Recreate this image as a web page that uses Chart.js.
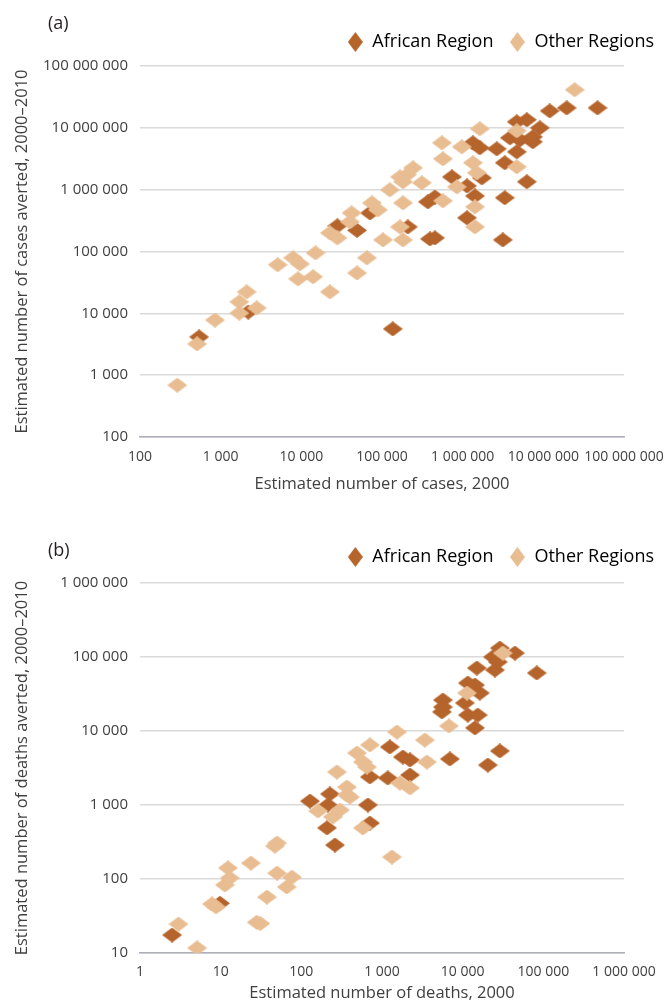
<!DOCTYPE html>
<html>
<head>
<meta charset="utf-8">
<title>Cases and deaths averted, 2000-2010</title>
<script src="https://cdn.jsdelivr.net/npm/chart.js@4.4.1/dist/chart.umd.min.js"></script>
<style>
  html, body { margin: 0; padding: 0; background: #fff; }
  body { width: 670px; height: 1007px; position: relative; overflow: hidden; font-family: "Open Sans", sans-serif; }
  .panel { position: absolute; left: 0; width: 670px; }
  .panel canvas { display: block; }
  .tag { position: absolute; left: 48px; font-size: 18px; line-height: 22px; color: #231f20; }
</style>
</head>
<body>
<div class="panel" style="top:0;height:500px">
  <canvas id="casesChart" width="670" height="500" style="width:670px;height:500px"></canvas>
  <div class="tag" style="top:11px">(a)</div>
</div>
<div class="panel" style="top:500px;height:507px">
  <canvas id="deathsChart" width="670" height="507" style="width:670px;height:507px"></canvas>
  <div class="tag" style="top:38px">(b)</div>
</div>

<script>
// ── colours ──
const AFRICA = '#b5642c';
const OTHER  = '#e9bd92';
const TEXT   = '#404040';
const FONT   = '"Open Sans", sans-serif';

// ── (a) cases ──
const casesTicksX = [100, 1000, 10000, 100000, 1000000, 10000000, 100000000];
const casesTicksY = [100, 1000, 10000, 100000, 1000000, 10000000, 100000000];

const africaCases2000 = [540, 2200, 136000, 28000, 49000, 71000, 735000, 1130000, 1420000, 3330000,
  371000, 453000, 1130000, 3150000, 209000, 453000, 393000, 1340000, 1630000, 2650000,
  4690000, 3330000, 1730000, 6250000, 3850000, 5120000, 7410000, 7410000, 9060000, 4690000,
  6250000, 12000000, 19500000, 47000000];
const africaCasesAverted = [4150, 10500, 5600, 260000, 220000, 420000, 1610000, 1150000, 790000, 740000,
  635000, 760000, 350000, 154000, 250000, 166000, 160000, 5720000, 4750000, 4570000,
  4090000, 2720000, 1550000, 1340000, 6890000, 6400000, 5930000, 7150000, 10000000, 12500000,
  13500000, 18800000, 21000000, 21000000];

const otherCases2000 = [290, 510, 850, 1700, 1700, 2100, 2800, 5100, 7900, 9600,
  9100, 14000, 15000, 22600, 22600, 28000, 42000, 40000, 49000, 65000,
  75000, 89000, 103000, 125000, 167000, 167000, 242000, 204000, 182000, 312000,
  182000, 553000, 569000, 977000, 1340000, 1500000, 1630000, 848000, 569000, 1420000,
  1420000, 4690000, 4690000, 182000, 24500000];
const otherCasesAverted = [690, 3200, 7800, 10100, 15300, 22200, 12200, 61000, 79000, 63000,
  36000, 39000, 95000, 22200, 200000, 166000, 421000, 301000, 45000, 79000,
  611000, 471000, 154000, 993000, 1610000, 250000, 2250000, 1740000, 1340000, 1290000,
  611000, 5720000, 3150000, 4930000, 2720000, 1870000, 9640000, 1110000, 659000, 527000,
  250000, 8940000, 2340000, 154000, 41200000];

// ── (b) deaths ──
const deathsTicksX = [1, 10, 100, 1000, 10000, 100000, 1000000];
const deathsTicksY = [10, 100, 1000, 10000, 100000, 1000000];

const africaDeaths2000 = [2.5, 9.8, 128, 226, 214, 208, 261, 669, 708, 1250,
  708, 1180, 28900, 44400, 23700, 83000, 15000, 25100, 27300, 11600,
  14200, 16300, 5690, 5690, 5530, 10650, 11600, 15400, 14200, 28900,
  20500, 6940, 1815, 2220, 2220];
const africaDeathsAverted = [17.5, 47, 1130, 1410, 1000, 490, 288, 1000, 570, 6080,
  2390, 2320, 132000, 113000, 100000, 60800, 71000, 66700, 85600, 44500,
  41800, 32600, 26200, 21100, 18100, 23900, 16450, 16450, 11000, 5370,
  3470, 4190, 4450, 4060, 2540];

const otherDeaths2000 = [3, 5.1, 7.8, 8.75, 28, 31, 37.5, 11.3, 13, 12.3,
  23.7, 50, 47, 50, 76.5, 66, 161, 246, 300, 400,
  367, 580, 1330, 1530, 708, 489, 580, 650, 276, 367,
  31500, 11300, 6750, 3400, 3600, 1670, 2220];
const otherDeathsAverted = [24.6, 11.7, 46, 42, 26, 25, 57, 83, 103, 141,
  164, 120, 279, 306, 106, 78, 830, 690, 855, 1280,
  1750, 490, 198, 9690, 6470, 5040, 3810, 3260, 2790, 1370,
  113000, 32600, 11700, 7550, 3810, 1980, 1700];

/* ════════════════════════════
   HELPERS
════════════════════════════ */
function zip(xs, ys) {
  return xs.map((x, i) => ({ x, y: ys[i] }));
}

// 1 000 000 style labels
function spaced(v) {
  return String(v).replace(/\B(?=(\d{3})+(?!\d))/g, ' ');
}

// flattened diamond marker drawn once on a small canvas
function diamond(color, w, h) {
  const c = document.createElement('canvas');
  c.width = w;
  c.height = h;
  const g = c.getContext('2d');
  g.fillStyle = color;
  g.beginPath();
  g.moveTo(w / 2, 0);
  g.lineTo(w, h / 2);
  g.lineTo(w / 2, h);
  g.lineTo(0, h / 2);
  g.closePath();
  g.fill();
  return c;
}

/* ════════════════════════════
   SCATTER PANEL
════════════════════════════ */
function makePanel(id, o) {
  const dotA = diamond(AFRICA, 20, 15);
  const dotO = diamond(OTHER, 20, 15);
  const keys = [diamond(AFRICA, 15, 20), diamond(OTHER, 15, 20)];

  new Chart(document.getElementById(id), {
    type: 'scatter',
    data: {
      datasets: [
        { label: 'African Region', data: zip(o.ax, o.ay), pointStyle: dotA,
          backgroundColor: AFRICA, borderColor: AFRICA, order: 1, xAxisID: 'x', yAxisID: 'y' },
        { label: 'Other Regions', data: zip(o.ox, o.oy), pointStyle: dotO,
          backgroundColor: OTHER, borderColor: OTHER, order: 0, xAxisID: 'x', yAxisID: 'y' }
      ]
    },
    options: {
      responsive: false,
      animation: false,
      events: [],
      layout: { padding: { top: o.padTop, right: 0, bottom: 0, left: 0 } },
      plugins: {
        tooltip: { enabled: false },
        legend: {
          position: 'top',
          align: 'end',
          labels: {
            usePointStyle: true,
            boxWidth: 16,
            padding: 16,
            color: TEXT,
            font: { family: FONT, size: 18 },
            generateLabels: chart => chart.data.datasets.map((ds, i) => ({
              text: ds.label,
              pointStyle: keys[i],
              fillStyle: ds.backgroundColor,
              strokeStyle: ds.backgroundColor,
              lineWidth: 0,
              hidden: false,
              datasetIndex: i
            }))
          }
        }
      },
      scales: {
        x: {
          type: 'logarithmic',
          min: o.xTicks[0],
          max: o.xTicks[o.xTicks.length - 1],
          afterBuildTicks: s => { s.ticks = o.xTicks.map(v => ({ value: v })); },
          grid: { display: false, drawTicks: false },
          border: { display: true, color: '#aeaebb', width: 1.5 },
          ticks: {
            autoSkip: false, maxRotation: 0, padding: o.xTickPad,
            color: TEXT, font: { family: FONT, size: 14 },
            callback: v => spaced(v)
          },
          title: {
            display: true, text: o.xTitle, color: TEXT,
            font: { family: FONT, size: 16.5 },
            padding: { top: 0, bottom: o.xTitlePad }
          },
          afterFit: s => { s.height = o.xAxisH; s.paddingRight = 46; }
        },
        y: {
          type: 'logarithmic',
          min: o.yTicks[0],
          max: o.yTicks[o.yTicks.length - 1],
          afterBuildTicks: s => { s.ticks = o.yTicks.map(v => ({ value: v })); },
          grid: { color: '#dadada', lineWidth: 1.5, drawTicks: false },
          border: { display: false },
          ticks: {
            autoSkip: false, padding: 12,
            color: TEXT, font: { family: FONT, size: 15 },
            callback: v => spaced(v)
          },
          title: {
            display: true, text: o.yTitle, color: TEXT,
            font: { family: FONT, size: 16.5 },
            padding: { top: 12, bottom: 0 }
          },
          afterFit: s => { s.width = 140; }
        },
        // empty strip between legend and plot
        gap: {
          type: 'linear', position: 'top', min: 0, max: 1,
          ticks: { display: false },
          grid: { display: false, drawTicks: false },
          border: { display: false },
          afterFit: s => { s.height = o.gap; }
        }
      }
    }
  });
}

/* ════════════════════════════
   INIT
════════════════════════════ */
function init() {
  makePanel('casesChart', {
    ax: africaCases2000, ay: africaCasesAverted,
    ox: otherCases2000, oy: otherCasesAverted,
    xTicks: casesTicksX, yTicks: casesTicksY,
    xTitle: 'Estimated number of cases, 2000',
    yTitle: 'Estimated number of cases averted, 2000\u20132010',
    padTop: 17, gap: 5, xAxisH: 63, xTickPad: 12, xTitlePad: 6
  });
  makePanel('deathsChart', {
    ax: africaDeaths2000, ay: africaDeathsAverted,
    ox: otherDeaths2000, oy: otherDeathsAverted,
    xTicks: deathsTicksX, yTicks: deathsTicksY,
    xTitle: 'Estimated number of deaths, 2000',
    yTitle: 'Estimated number of deaths averted, 2000\u20132010',
    padTop: 32, gap: 7, xAxisH: 54, xTickPad: 11, xTitlePad: 4
  });
}

if (document.fonts && document.fonts.load) {
  document.fonts.load('15px "Open Sans"').then(init, init);
} else {
  init();
}
</script>
</body>
</html>
